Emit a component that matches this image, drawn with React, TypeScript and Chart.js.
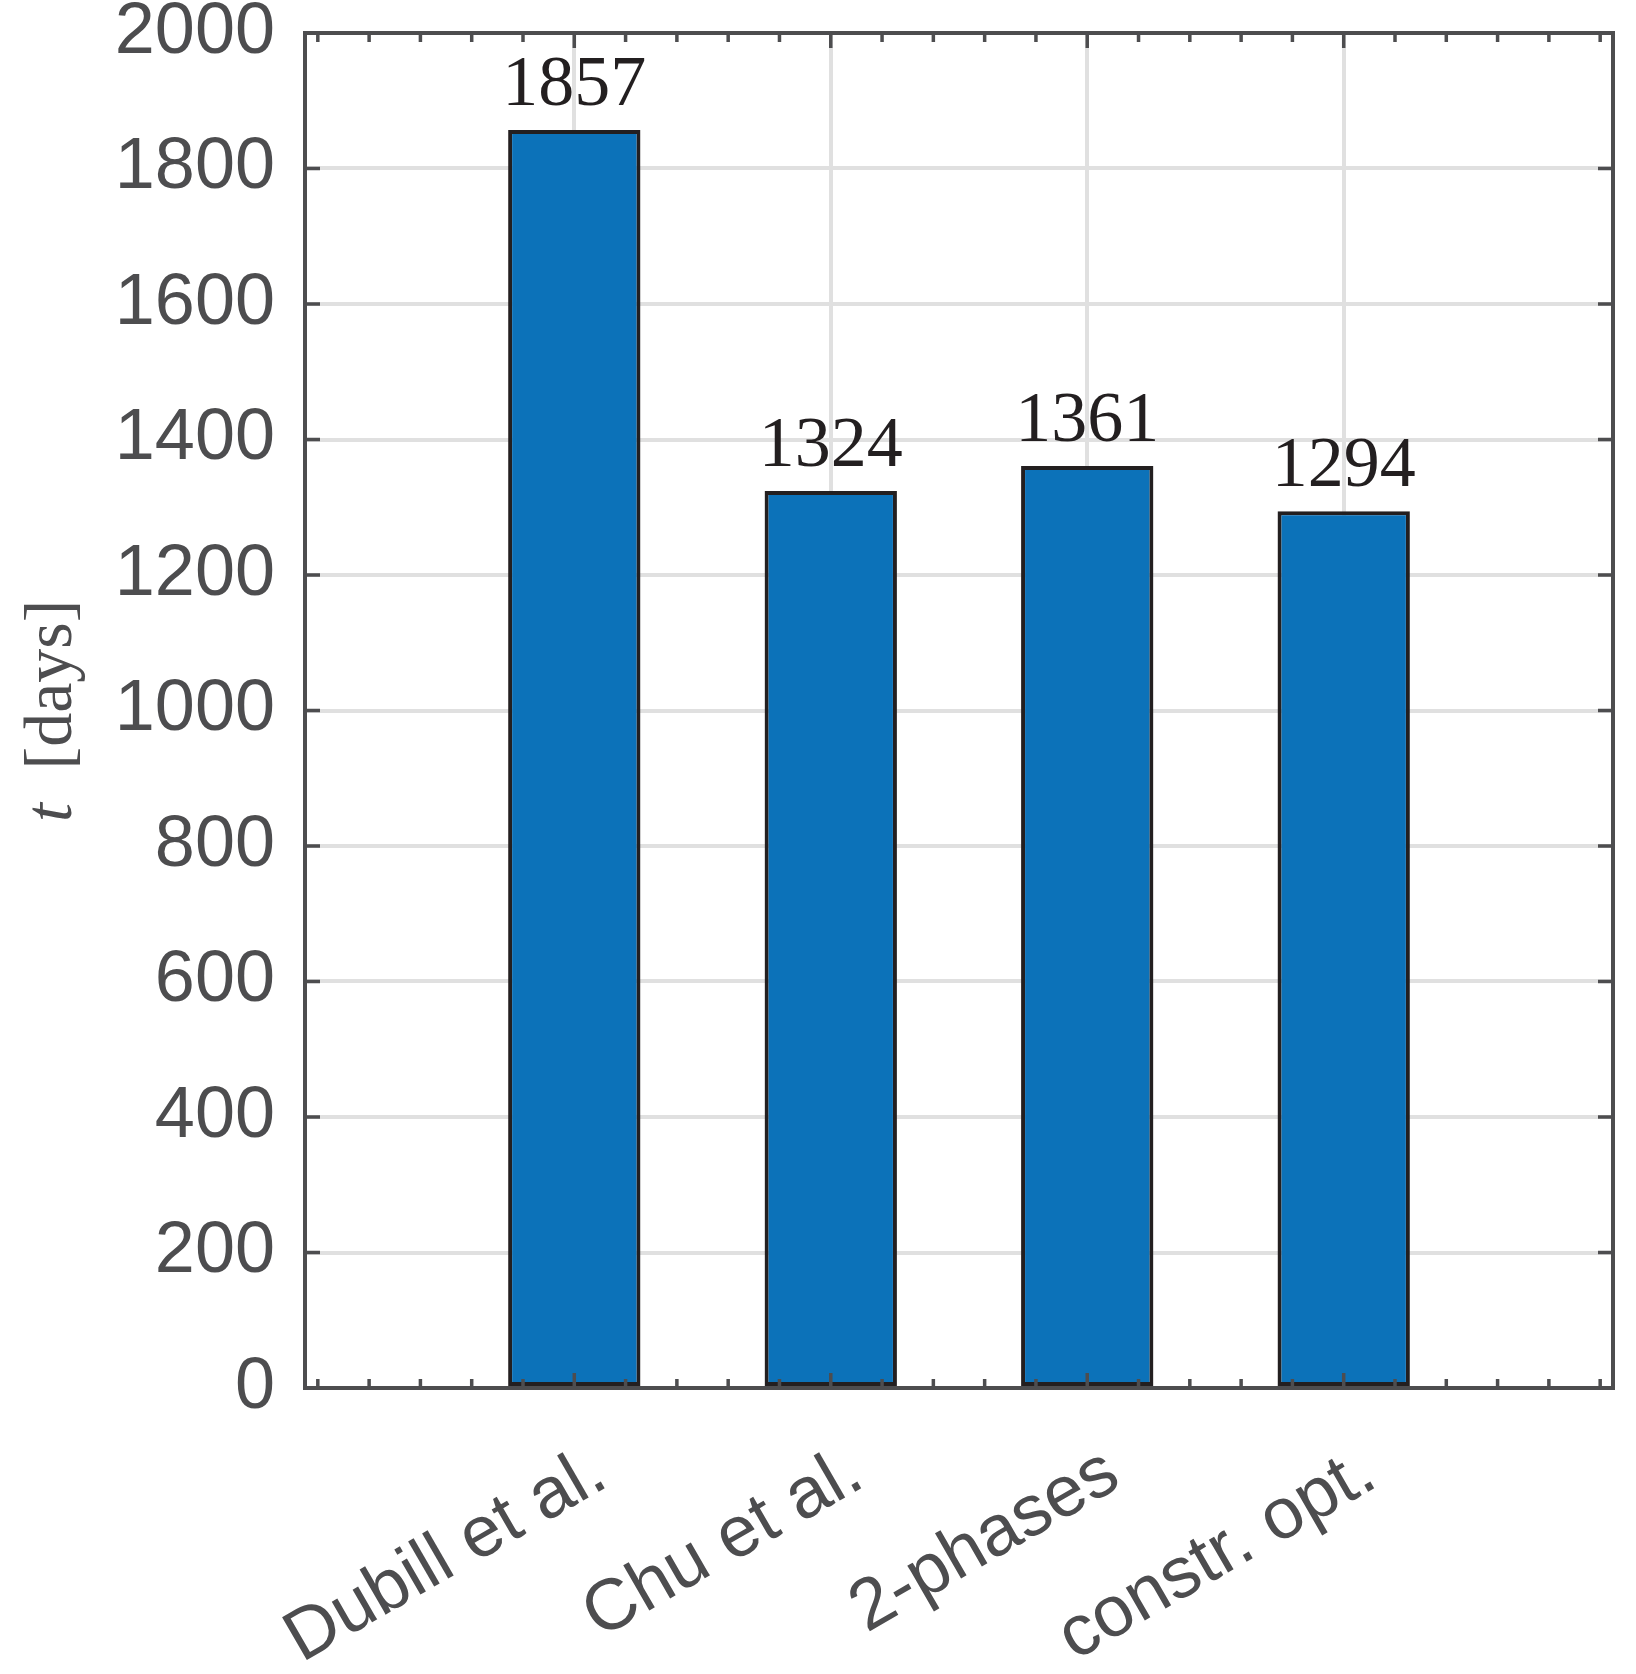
import React, { useEffect, useRef } from 'react';
import { Chart, registerables } from 'chart.js';

Chart.register(...registerables);

// ---- data ----
const categories = ['Dubill et al.', 'Chu et al.', '2-phases', 'constr. opt.'];
const categoryPositions = [1, 2, 3, 4];
const durationDays = [1857, 1324, 1361, 1294];
const yTickValues = [0, 200, 400, 600, 800, 1000, 1200, 1400, 1600, 1800, 2000];
const xMinorTickValues = [
  0, 0.2, 0.4, 0.6, 0.8, 1, 1.2, 1.4, 1.6, 1.8, 2, 2.2, 2.4, 2.6, 2.8, 3,
  3.2, 3.4, 3.6, 3.8, 4, 4.2, 4.4, 4.6, 4.8, 5,
];
const yTitleVariable = 't';
const yTitleUnit = '[days]';

const X_MIN = -0.05;
const X_MAX = 5.05;
const Y_MIN = 0;
const Y_MAX = 2000;

// ---- styles ----
const AXIS_COLOR = '#4d4d4f';
const GRID_COLOR = '#e0e0e0';
const BAR_COLOR = '#0c72b9';
const BAR_EDGE = '#231f20';
const LABEL_DARK = '#231f20';
const SANS = "'Liberation Sans', Arial, Helvetica, sans-serif";
const SERIF = "'Liberation Serif', 'Times New Roman', serif";

const isMajorX = (v: number) => categoryPositions.some((c) => Math.abs(c - v) < 1e-6);

const framePlugin = {
  id: 'matlabFrame',
  afterDatasetsDraw(chart: any) {
    const { ctx, chartArea } = chart;
    const { left, right, top, bottom } = chartArea;
    const xs = chart.scales.x;
    const ys = chart.scales.y;
    ctx.save();
    ctx.strokeStyle = AXIS_COLOR;
    ctx.lineWidth = 3.5;
    ctx.beginPath();
    yTickValues.forEach((v) => {
      const p = ys.getPixelForValue(v);
      ctx.moveTo(left, p);
      ctx.lineTo(left + 15, p);
      ctx.moveTo(right, p);
      ctx.lineTo(right - 15, p);
    });
    xMinorTickValues.forEach((v) => {
      const p = xs.getPixelForValue(v);
      const len = isMajorX(v) ? 15 : 9;
      ctx.moveTo(p, bottom);
      ctx.lineTo(p, bottom - len);
      ctx.moveTo(p, top);
      ctx.lineTo(p, top + len);
    });
    ctx.stroke();
    ctx.lineWidth = 4;
    ctx.strokeRect(left, top, right - left, bottom - top);

    // bar value labels
    const meta = chart.getDatasetMeta(0);
    ctx.font = `72px ${SERIF}`;
    ctx.fillStyle = LABEL_DARK;
    ctx.textAlign = 'center';
    ctx.textBaseline = 'alphabetic';
    meta.data.forEach((el: any, i: number) => {
      ctx.fillText(String(durationDays[i]), el.x, el.y - 25);
    });
    ctx.restore();
  },
  afterDraw(chart: any) {
    const { ctx, chartArea } = chart;
    const { top, bottom } = chartArea;
    const xs = chart.scales.x;
    ctx.save();
    // rotated category labels
    ctx.font = `72px ${SANS}`;
    ctx.fillStyle = AXIS_COLOR;
    ctx.textAlign = 'right';
    ctx.textBaseline = 'alphabetic';
    categories.forEach((label, i) => {
      const px = xs.getPixelForValue(categoryPositions[i]);
      ctx.save();
      ctx.translate(px + 36, bottom + 97);
      ctx.rotate(-Math.PI / 6);
      ctx.fillText(label, 0, 0);
      ctx.restore();
    });

    // y axis title
    const cy = (top + bottom) / 2;
    const baseX = 71;
    ctx.textAlign = 'center';
    ctx.textBaseline = 'alphabetic';
    ctx.font = `italic 68px ${SERIF}`;
    ctx.save();
    ctx.translate(baseX, cy + 102);
    ctx.rotate(-Math.PI / 2);
    ctx.fillText(yTitleVariable, 0, 0);
    ctx.restore();
    ctx.font = `68px ${SERIF}`;
    ctx.save();
    ctx.translate(baseX, cy - 26);
    ctx.rotate(-Math.PI / 2);
    ctx.fillText(yTitleUnit, 0, 0);
    ctx.restore();
    ctx.restore();
  },
};

export default function App() {
  const canvasRef = useRef<HTMLCanvasElement | null>(null);

  useEffect(() => {
    if (!canvasRef.current) return;
    const chart = new Chart(canvasRef.current, {
      type: 'bar',
      data: {
        datasets: [
          {
            data: categoryPositions.map((x, i) => ({ x, y: durationDays[i] })),
            backgroundColor: BAR_COLOR,
            borderColor: BAR_EDGE,
            borderWidth: 4,
            borderSkipped: false,
            barPercentage: 0.516,
            categoryPercentage: 1,
          },
        ],
      },
      options: {
        animation: false,
        responsive: true,
        maintainAspectRatio: false,
        devicePixelRatio: 1,
        layout: { padding: { left: 0, top: 33, right: 23, bottom: 0 } },
        plugins: {
          legend: { display: false },
          tooltip: { enabled: false },
          title: { display: false },
        },
        scales: {
          x: {
            type: 'linear',
            min: X_MIN,
            max: X_MAX,
            offset: false,
            grid: { display: true, color: GRID_COLOR, lineWidth: 4, drawTicks: false, offset: false },
            border: { display: false },
            ticks: { display: false },
            afterBuildTicks: (s: any) => {
              s.ticks = categoryPositions.map((v) => ({ value: v }));
            },
            afterFit: (s: any) => {
              s.height = 286;
              s.paddingLeft = 0;
              s.paddingRight = 0;
            },
          },
          y: {
            type: 'linear',
            min: Y_MIN,
            max: Y_MAX,
            grid: { color: GRID_COLOR, lineWidth: 4, drawTicks: false },
            border: { display: false },
            ticks: {
              font: { family: SANS, size: 72 },
              color: AXIS_COLOR,
              padding: 30,
              callback: (v: any) => String(v),
            },
            afterBuildTicks: (s: any) => {
              s.ticks = yTickValues.map((v) => ({ value: v }));
            },
            afterFit: (s: any) => {
              s.width = 305;
              s.paddingTop = 0;
              s.paddingBottom = 0;
            },
          },
        },
      } as any,
      plugins: [framePlugin],
    });
    return () => chart.destroy();
  }, []);

  return (
    <div style={{ position: 'absolute', left: 0, top: 0, width: 1636, height: 1674, background: '#ffffff' }}>
      <canvas ref={canvasRef} />
    </div>
  );
}
